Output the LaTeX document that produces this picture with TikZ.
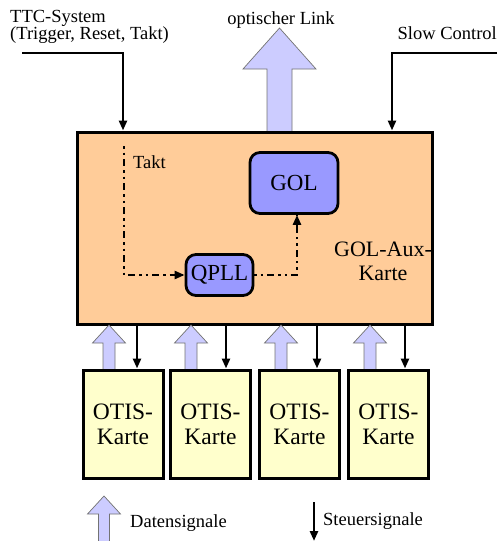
\documentclass[tikz,border=0pt]{standalone}
\usepackage{fontspec}
\setmainfont{Liberation Serif}
\usetikzlibrary{arrows.meta}
\definecolor{peach}{HTML}{FFCC99}
\definecolor{chip}{HTML}{9999FF}
\definecolor{card}{HTML}{FFFFCC}
\definecolor{flow}{HTML}{CCCCFF}
\tikzset{
  lbl/.style={inner sep=0pt, font=\fontsize{18.5}{17}\selectfont},
  auxbox/.style={draw, line width=3pt, fill=peach, minimum width=355pt, minimum height=192pt},
  chipbox/.style={draw, line width=2.8pt, fill=chip, rounded corners=10pt, font=\fontsize{23}{24}\selectfont},
  otisbox/.style={draw, line width=3pt, fill=card, minimum width=80pt, minimum height=108pt,
    align=center, font=\fontsize{23.5}{25}\selectfont},
  ctl/.style={line width=2.8pt, -{Triangle[length=10pt,width=8pt]}},
  clk/.style={line width=2.8pt, dash pattern=on 2.5pt off 4pt on 2.5pt off 4pt on 7pt off 4pt},
  fat/.style={draw=black!55, line width=0.7pt, fill=flow},
}
% upward block arrow: centre x, bottom y, tip y, shaft half width, head half width, head length
\newcommand\fatup[6]{%
  \draw[fat] (#1-#4,#2) -- (#1-#4,#3+#6) -- (#1-#5,#3+#6) -- (#1,#3)
    -- (#1+#5,#3+#6) -- (#1+#4,#3+#6) -- (#1+#4,#2) -- cycle;}
\begin{document}
\begin{tikzpicture}[x=1pt,y=-1pt]
\useasboundingbox (0,0) rectangle (502,541);

% optical output link
\fatup{279.5}{133}{28}{12.5}{36.5}{41}
\node[lbl, anchor=base] (optlbl) at (281,24) {optischer Link};

% GOL auxiliary board
\node[auxbox] (main) at (254.5,228) {};
\node[font=\fontsize{22}{24}\selectfont, align=center] (auxlbl) at (383,261) {GOL-Aux-\\Karte};
\node[chipbox, minimum width=88pt, minimum height=61pt] (gol) at (294,183) {GOL};
\node[chipbox, minimum width=67pt, minimum height=41pt] (qpll) at (219.5,275) {QPLL};

% clock path inside the board
\coordinate (taktin) at (124,146);
\node[lbl, anchor=base west] (taktlbl) at (133,168) {Takt};
\draw[clk] (taktin) |- (qpll.west);
\draw[line width=2.4pt, -{Triangle[length=10pt,width=8pt]}] ([xshift=-14pt]qpll.west) -- (qpll.west);
\coordinate (golin) at (297,0);
\draw[clk] (qpll.east) -| (golin |- gol.south);
\draw[line width=2.4pt, -{Triangle[length=10pt,width=8pt]}] ([yshift=-14pt]golin |- gol.south) -- (golin |- gol.south);

% external control inputs
\node[lbl, anchor=north west, align=left] (ttclbl) at (10,10.5) {TTC-System\\(Trigger, Reset, Takt)};
\coordinate (ttcstart) at (22,53);
\coordinate (ttcdrop) at (123,0);
\draw[ctl] (ttcstart) -| (ttcdrop |- main.north);
\node[lbl, anchor=base east] (sclbl) at (497,39) {Slow Control};
\coordinate (scstart) at (497,53);
\coordinate (scdrop) at (392,0);
\draw[ctl] (scstart) -| (scdrop |- main.north);

% OTIS boards with data (up) and control (down) signals
\foreach \i/\cx/\ux/\dx in {1/123/109/137, 2/210.5/191/226, 3/299.5/281/317, 4/388.5/370/405} {
  \fatup{\ux}{370}{325}{6}{16.5}{18}
  \node[otisbox] (o\i) at (\cx,424) {OTIS-\\Karte};
  \coordinate (d\i) at (\dx,0);
  \draw[ctl] (main.south -| d\i) -- (o\i.north -| d\i);
}

% legend
\fatup{104}{545}{496}{5.5}{16.5}{18}
\node[lbl, anchor=base west] (datlbl) at (130,527) {Datensignale};
\coordinate (legtop) at (314,502);
\coordinate (legbot) at (314,541);
\draw[ctl] (legtop) -- (legbot);
\node[lbl, anchor=base west] (steulbl) at (323,525) {Steuersignale};
\end{tikzpicture}
\end{document}
